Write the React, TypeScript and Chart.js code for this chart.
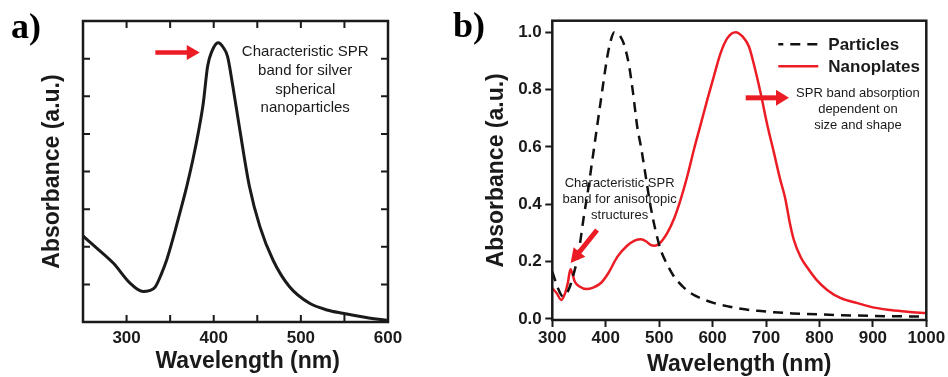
import React, { useEffect, useRef } from 'react';
import { Chart, registerables } from 'chart.js';

Chart.register(...registerables);

const SANS = '"Liberation Sans", Arial, Helvetica, sans-serif';
const SERIF = '"Liberation Serif", "Times New Roman", serif';
const RED = '#ec1c24';
const INK = '#1a1a1a';

// ---------- Panel a: silver spherical nanoparticles ----------
const wavelengthA = [250, 268, 285, 304, 319, 326, 333, 340, 346, 354, 361, 369, 376, 383, 388, 393, 398, 405, 411, 416, 422, 430, 441, 453, 468, 487, 510, 530, 548, 575, 600];
const absorbanceA = [0.286, 0.24, 0.195, 0.129, 0.101, 0.104, 0.117, 0.16, 0.206, 0.285, 0.361, 0.45, 0.538, 0.64, 0.727, 0.85, 0.9, 0.928, 0.912, 0.881, 0.782, 0.638, 0.45, 0.317, 0.206, 0.117, 0.062, 0.04, 0.029, 0.015, 0.005];
const xTicksA = [250, 300, 350, 400, 450, 500, 550, 600];
const yTicksA = [0, 0.125, 0.25, 0.375, 0.5, 0.625, 0.75, 0.875, 1];
const noteA = ['Characteristic SPR', 'band for silver', 'spherical', 'nanoparticles'];

// ---------- Panel b: particles vs nanoplates ----------
const seriesNamesB = ['Particles', 'Nanoplates'];
const wavelengthParticles = [300, 310, 320, 327, 333, 342, 348, 359, 367, 375, 383, 391, 403, 410, 416, 423, 431, 437, 444, 451, 459, 466, 472, 484, 493, 503, 515, 528, 543, 559, 580, 603, 630, 653, 685, 715, 750, 777, 840, 902, 1000];
const absorbanceParticles = [0.165, 0.11, 0.078, 0.09, 0.113, 0.171, 0.217, 0.357, 0.45, 0.555, 0.66, 0.764, 0.915, 0.975, 1.0, 0.995, 0.973, 0.94, 0.88, 0.79, 0.67, 0.6, 0.531, 0.392, 0.31, 0.24, 0.19, 0.147, 0.115, 0.09, 0.07, 0.055, 0.043, 0.035, 0.028, 0.023, 0.019, 0.017, 0.013, 0.01, 0.008];
const wavelengthNanoplates = [300, 308, 317, 324, 329, 334, 338, 342, 351, 364, 375, 391, 405, 422, 440, 455, 466, 476, 484, 491, 500, 515, 528, 540, 553, 565, 578, 590, 603, 615, 628, 643, 656, 668, 679, 690, 702, 715, 726, 736, 744, 752, 765, 777, 795, 815, 840, 871, 900, 933, 965, 1000];
const absorbanceNanoplates = [0.107, 0.09, 0.066, 0.09, 0.125, 0.173, 0.155, 0.13, 0.113, 0.104, 0.108, 0.125, 0.16, 0.217, 0.255, 0.274, 0.278, 0.27, 0.258, 0.255, 0.262, 0.299, 0.35, 0.415, 0.5, 0.59, 0.68, 0.764, 0.85, 0.927, 0.98, 1.0, 0.985, 0.95, 0.875, 0.787, 0.68, 0.578, 0.49, 0.42, 0.34, 0.276, 0.215, 0.18, 0.135, 0.1, 0.072, 0.055, 0.04, 0.031, 0.025, 0.02];
const xTicksB = [300, 400, 500, 600, 700, 800, 900, 1000];
const yTicksB = [0, 0.2, 0.4, 0.6, 0.8, 1.0];
const noteB1 = ['SPR band absorption', 'dependent on', 'size and shape'];
const noteB2 = ['Characteristic SPR', 'band for anisotropic', 'structures'];

function drawArrow(ctx: CanvasRenderingContext2D, x1: number, y1: number, x2: number, y2: number, shaft: number, headLen: number, headW: number) {
  const ang = Math.atan2(y2 - y1, x2 - x1);
  const bx = x2 - headLen * Math.cos(ang);
  const by = y2 - headLen * Math.sin(ang);
  ctx.save();
  ctx.strokeStyle = RED;
  ctx.fillStyle = RED;
  ctx.lineWidth = shaft;
  ctx.lineCap = 'butt';
  ctx.beginPath();
  ctx.moveTo(x1, y1);
  ctx.lineTo(bx + Math.cos(ang), by + Math.sin(ang));
  ctx.stroke();
  const px = (-Math.sin(ang) * headW) / 2;
  const py = (Math.cos(ang) * headW) / 2;
  ctx.beginPath();
  ctx.moveTo(x2, y2);
  ctx.lineTo(bx + px, by + py);
  ctx.lineTo(bx - px, by - py);
  ctx.closePath();
  ctx.fill();
  ctx.restore();
}

function drawLines(ctx: CanvasRenderingContext2D, lines: string[], cx: number, cy: number, size: number, gap: number) {
  ctx.save();
  ctx.fillStyle = INK;
  ctx.font = `${size}px ${SANS}`;
  ctx.textAlign = 'center';
  ctx.textBaseline = 'middle';
  lines.forEach((t, i) => ctx.fillText(t, cx, cy + i * gap));
  ctx.restore();
}

function drawFrame(ctx: CanvasRenderingContext2D, ca: any) {
  ctx.save();
  ctx.strokeStyle = INK;
  ctx.lineWidth = 2.5;
  ctx.strokeRect(ca.left, ca.top, ca.right - ca.left, ca.bottom - ca.top);
  ctx.restore();
}

const panelAPlugin = {
  id: 'panelA',
  afterDatasetsDraw(chart: any) {
    const { ctx, chartArea: ca, scales } = chart;
    const sx = scales.x;
    const sy = scales.y;
    drawFrame(ctx, ca);
    // inward ticks on all four sides
    ctx.save();
    ctx.strokeStyle = INK;
    ctx.lineWidth = 2;
    const L = 7;
    sx.ticks.forEach((t: any) => {
      const p = sx.getPixelForValue(t.value);
      if (p <= ca.left + 1 || p >= ca.right - 1) return;
      ctx.beginPath();
      ctx.moveTo(p, ca.bottom);
      ctx.lineTo(p, ca.bottom - L);
      ctx.moveTo(p, ca.top);
      ctx.lineTo(p, ca.top + L);
      ctx.stroke();
    });
    sy.ticks.forEach((t: any) => {
      const p = sy.getPixelForValue(t.value);
      if (p <= ca.top + 1 || p >= ca.bottom - 1) return;
      ctx.beginPath();
      ctx.moveTo(ca.left, p);
      ctx.lineTo(ca.left + L, p);
      ctx.moveTo(ca.right, p);
      ctx.lineTo(ca.right - L, p);
      ctx.stroke();
    });
    ctx.restore();
    // annotation
    drawArrow(ctx, sx.getPixelForValue(333), sy.getPixelForValue(0.895), sx.getPixelForValue(384), sy.getPixelForValue(0.895), 4.5, 13, 15);
    drawLines(ctx, noteA, sx.getPixelForValue(505), sy.getPixelForValue(0.897), 15, 18.7);
    // x-axis title
    ctx.save();
    ctx.fillStyle = INK;
    ctx.font = `bold 23px ${SANS}`;
    ctx.textAlign = 'center';
    ctx.textBaseline = 'middle';
    ctx.fillText('Wavelength (nm)', sx.getPixelForValue(439), 362);
    ctx.restore();
    // panel label
    ctx.save();
    ctx.fillStyle = '#000';
    ctx.font = `bold 36px ${SERIF}`;
    ctx.textBaseline = 'alphabetic';
    ctx.fillText('a)', 11, 38);
    ctx.restore();
  },
};

const panelBPlugin = {
  id: 'panelB',
  afterDatasetsDraw(chart: any) {
    const { ctx, chartArea: ca, scales } = chart;
    const sx = scales.x;
    const sy = scales.y;
    drawFrame(ctx, ca);
    // legend
    const ds = chart.data.datasets;
    ctx.save();
    ds.forEach((d: any, i: number) => {
      const y = ca.top + 23.5 + i * 22;
      ctx.strokeStyle = d.borderColor;
      ctx.lineWidth = d.borderWidth;
      ctx.setLineDash(d.borderDash || []);
      ctx.lineDashOffset = 5;
      ctx.beginPath();
      ctx.moveTo(ca.right - 148, y);
      ctx.lineTo(ca.right - 108, y);
      ctx.stroke();
      ctx.setLineDash([]);
      ctx.fillStyle = INK;
      ctx.font = `bold 17px ${SANS}`;
      ctx.textAlign = 'left';
      ctx.textBaseline = 'middle';
      ctx.fillText(d.label, ca.right - 98, y + 1);
    });
    ctx.restore();
    // annotations
    drawArrow(ctx, sx.getPixelForValue(662), sy.getPixelForValue(0.771), sx.getPixelForValue(743), sy.getPixelForValue(0.771), 5, 13, 16);
    drawLines(ctx, noteB1, sx.getPixelForValue(872), sy.getPixelForValue(0.785), 13, 16);
    drawArrow(ctx, sx.getPixelForValue(383.7), sy.getPixelForValue(0.31), sx.getPixelForValue(334.4), sy.getPixelForValue(0.195), 5, 14, 15);
    drawLines(ctx, noteB2, sx.getPixelForValue(426), sy.getPixelForValue(0.471), 13, 16);
    // panel label
    ctx.save();
    ctx.fillStyle = '#000';
    ctx.font = `bold 36px ${SERIF}`;
    ctx.textBaseline = 'alphabetic';
    ctx.fillText('b)', 3, 37);
    ctx.restore();
  },
};

const tickFont = { family: SANS, size: 17, weight: 'bold' as const };
const titleFont = { family: SANS, size: 23, weight: 'bold' as const, lineHeight: 1 };

function configA(): any {
  return {
    type: 'line',
    data: {
      datasets: [
        {
          label: 'Silver spherical nanoparticles',
          data: wavelengthA.map((x, i) => ({ x, y: absorbanceA[i] })),
          borderColor: INK,
          borderWidth: 3,
          pointRadius: 0,
          fill: false,
          cubicInterpolationMode: 'monotone',
        },
      ],
    },
    options: {
      responsive: false,
      animation: false,
      events: [],
      layout: { padding: { left: 41.5, right: 62, top: 21, bottom: 3.8 } },
      plugins: { legend: { display: false }, tooltip: { enabled: false } },
      scales: {
        x: {
          type: 'linear',
          min: 250,
          max: 600,
          afterBuildTicks: (s: any) => { s.ticks = xTicksA.map((v) => ({ value: v })); },
          afterFit: (s: any) => { s.height = 51.2; },
          ticks: {
            autoSkip: false,
            maxRotation: 0,
            padding: 6,
            color: INK,
            font: tickFont,
            callback: (v: any) => (Number(v) % 100 === 0 ? String(v) : ''),
          },
          grid: { display: false, drawTicks: false },
          border: { display: false },
        },
        y: {
          type: 'linear',
          min: 0,
          max: 1,
          afterBuildTicks: (s: any) => { s.ticks = yTicksA.map((v) => ({ value: v })); },
          afterFit: (s: any) => { s.width = 41.5; },
          ticks: { display: false },
          grid: { display: false, drawTicks: false },
          border: { display: false },
          title: { display: true, text: 'Absorbance (a.u.)', color: INK, font: titleFont, padding: 0 },
        },
      },
    },
    plugins: [panelAPlugin],
  };
}

function configB(): any {
  return {
    type: 'line',
    data: {
      datasets: [
        {
          label: seriesNamesB[0],
          data: wavelengthParticles.map((x, i) => ({ x, y: absorbanceParticles[i] })),
          borderColor: '#111111',
          borderWidth: 2.5,
          borderDash: [10, 7],
          pointRadius: 0,
          fill: false,
          cubicInterpolationMode: 'monotone',
        },
        {
          label: seriesNamesB[1],
          data: wavelengthNanoplates.map((x, i) => ({ x, y: absorbanceNanoplates[i] })),
          borderColor: RED,
          borderWidth: 2.5,
          pointRadius: 0,
          fill: false,
          cubicInterpolationMode: 'monotone',
        },
      ],
    },
    options: {
      responsive: false,
      animation: false,
      events: [],
      layout: { padding: { left: 35.5, right: 21.7, top: 20.7, bottom: 0.5 } },
      plugins: { legend: { display: false }, tooltip: { enabled: false } },
      scales: {
        x: {
          type: 'linear',
          min: 300,
          max: 1000,
          afterBuildTicks: (s: any) => { s.ticks = xTicksB.map((v) => ({ value: v })); },
          afterFit: (s: any) => { s.height = 56.5; },
          ticks: { autoSkip: false, maxRotation: 0, padding: 1, color: INK, font: tickFont, callback: (v: any) => String(v) },
          grid: { display: true, drawOnChartArea: false, drawTicks: true, tickLength: 7, tickWidth: 2, tickColor: INK, color: INK },
          border: { display: false },
          title: { display: true, text: 'Wavelength (nm)', color: INK, font: titleFont, padding: 0 },
        },
        y: {
          type: 'linear',
          min: -0.004,
          max: 1.04,
          afterBuildTicks: (s: any) => { s.ticks = yTicksB.map((v) => ({ value: v })); },
          afterFit: (s: any) => { s.width = 66.8; },
          ticks: { padding: 3.5, color: INK, font: tickFont, callback: (v: any) => Number(v).toFixed(1) },
          grid: { display: true, drawOnChartArea: false, drawTicks: true, tickLength: 7, tickWidth: 2, tickColor: INK, color: INK },
          border: { display: false },
          title: { display: true, text: 'Absorbance (a.u.)', color: INK, font: titleFont, padding: 0 },
        },
      },
    },
    plugins: [panelBPlugin],
  };
}

function ChartCanvas({ width, height, makeConfig }: { width: number; height: number; makeConfig: () => any }) {
  const ref = useRef<HTMLCanvasElement | null>(null);
  useEffect(() => {
    if (!ref.current) return;
    const chart = new Chart(ref.current, makeConfig());
    return () => chart.destroy();
  }, [makeConfig]);
  return <canvas ref={ref} width={width} height={height} style={{ display: 'block', width, height }} />;
}

export default function App() {
  return (
    <div style={{ position: 'absolute', left: 0, top: 0, width: 948, height: 377, background: '#fff', display: 'flex' }}>
      <ChartCanvas width={450} height={377} makeConfig={configA} />
      <ChartCanvas width={498} height={377} makeConfig={configB} />
    </div>
  );
}
